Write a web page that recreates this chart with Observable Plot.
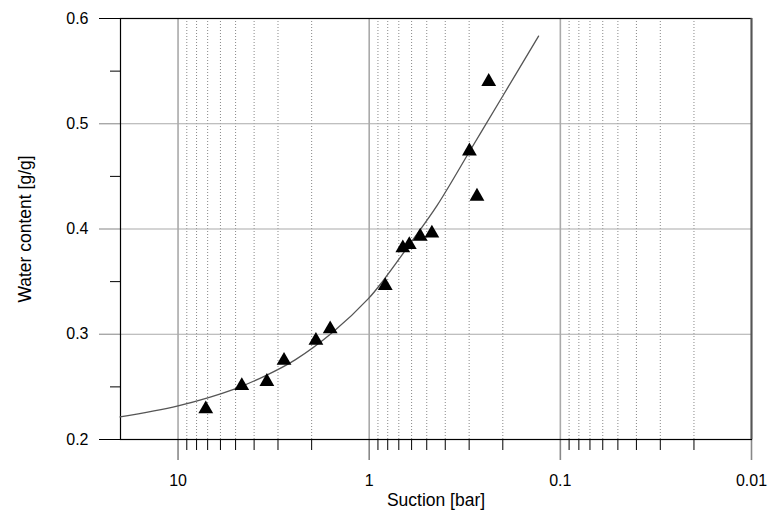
<!DOCTYPE html>
<html>
<head>
<meta charset="utf-8">
<script src="https://cdn.jsdelivr.net/npm/d3@7"></script>
<script src="https://cdn.jsdelivr.net/npm/@observablehq/plot@0.6"></script>
<style>
  html, body { margin: 0; padding: 0; background: white; }
</style>
</head>
<body>
<div id="chart"></div>
<script>
// Measured points (triangles)
const suction = [7.16, 4.64, 3.43, 2.79, 1.90, 1.60, 0.824, 0.667, 0.617, 0.541, 0.470, 0.299, 0.273, 0.237];
const water   = [0.229, 0.251, 0.255, 0.275, 0.294, 0.305, 0.346, 0.382, 0.385, 0.393, 0.396, 0.474, 0.431, 0.540];

// Fitted curve
const curveSuction = [20.1, 10, 5.03, 3.50, 2.44, 1.54, 1.01, 0.845, 0.610, 0.441, 0.296, 0.199, 0.130];
const curveWater   = [0.2214, 0.2319, 0.2481, 0.2605, 0.2757, 0.3024, 0.3338, 0.3510, 0.3862, 0.4224, 0.4748, 0.5271, 0.5833];

// Ticks
const xMajor = [10, 1, 0.1, 0.01];
const xMinor = [9, 8, 7, 6, 5, 4, 3, 2, 0.9, 0.8, 0.7, 0.6, 0.5, 0.4, 0.3, 0.2, 0.09, 0.08, 0.07, 0.06, 0.05, 0.04, 0.03, 0.02];
const yFrameTicks = [0.2, 0.6];
const yMajor = [0.3, 0.4, 0.5];
const yMinor = [0.25, 0.35, 0.45, 0.55];

const xLabel = "Suction [bar]";
const yLabel = "Water content [g/g]";

const points = suction.map((s, i) => ({s, w: water[i]}));
const curve = curveSuction.map((s, i) => ({s, w: curveWater[i]}));

const font = "'Liberation Sans', Arial, Helvetica, sans-serif";

const chart = Plot.plot({
  width: 769,
  height: 512,
  marginLeft: 120,
  marginRight: 18,
  marginTop: 18,
  marginBottom: 73,
  style: {fontFamily: font, fontSize: "16px", background: "white", color: "black"},
  x: {type: "log", domain: [20, 0.01], axis: null},
  y: {domain: [0.2, 0.6], axis: null},
  marks: [
    // minor dotted vertical gridlines
    Plot.ruleX(xMinor, {stroke: "#888", strokeWidth: 1, strokeDasharray: "1,2"}),
    // major vertical gridlines
    Plot.ruleX(xMajor.slice(0, 3), {stroke: "#aaa", strokeWidth: 1.6}),
    // horizontal gridlines
    Plot.ruleY(yMajor, {stroke: "#aaa", strokeWidth: 1.2}),
    // x ticks
    Plot.axisX(xMinor, {tickSize: 11, stroke: "black", tickFormat: () => "", label: null}),
    Plot.axisX(xMajor, {tickSize: 21, stroke: "#888", strokeWidth: 1.6, tickPadding: 14, fill: "black", fontSize: 16, tickFormat: d => String(d), label: null}),
    // y ticks
    Plot.axisY(yMinor, {tickSize: 10, stroke: "black", tickFormat: () => "", label: null}),
    Plot.axisY(yMajor, {tickSize: 21, stroke: "#999", strokeWidth: 1.2, tickPadding: 11, fill: "black", fontSize: 16, tickFormat: d3.format(".1f"), label: null}),
    Plot.axisY(yFrameTicks, {tickSize: 21, stroke: "black", tickPadding: 11, fill: "black", fontSize: 16, tickFormat: d3.format(".1f"), label: null}),
    // frame
    Plot.frame({stroke: "black", strokeWidth: 1.2}),
    Plot.ruleX([0.01], {stroke: "#555", strokeWidth: 2}),
    // fitted curve
    Plot.line(curve, {x: "s", y: "w", stroke: "#555", strokeWidth: 1.3, curve: "catmull-rom"}),
    // measured points
    Plot.dot(points, {x: "s", y: "w", symbol: "triangle", r: 5.5, fill: "black", stroke: "none"}),
    // axis labels
    Plot.text([xLabel], {frameAnchor: "bottom", textAnchor: "middle", lineAnchor: "middle", dy: 61, fontSize: 17.5, fill: "black"}),
    Plot.text([yLabel], {frameAnchor: "left", textAnchor: "middle", lineAnchor: "middle", dx: -95, rotate: -90, fontSize: 17.5, fill: "black"})
  ]
});

document.getElementById("chart").appendChild(chart);
</script>
</body>
</html>
